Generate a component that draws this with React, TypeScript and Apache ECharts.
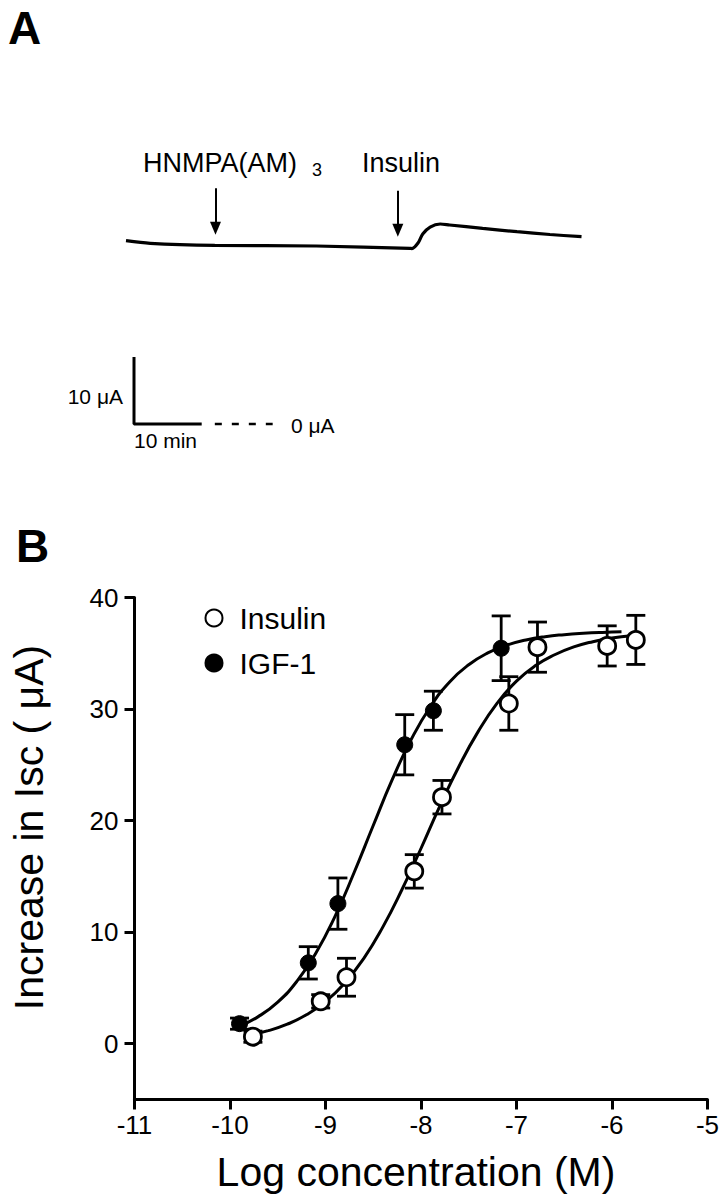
import React, { useEffect, useRef } from "react";
import * as echarts from "echarts";

const FONT = "'Liberation Sans', Arial, Helvetica, sans-serif";

// ---------- Panel A: short-circuit current trace (time in min, current in µA) ----------
const traceTime = [0, 3.6, 13.2, 28.3, 42.2, 42.5, 43.4, 44.1, 45.2, 46.7, 48.1, 53.0, 58.1, 63.0, 67.7];
const traceCurrent = [27.36, 26.97, 26.67, 26.57, 26.22, 26.19, 27.01, 28.36, 29.4, 29.85, 29.7, 29.2, 28.7, 28.28, 27.96];
const arrowTimes = [13.3, 40.4];
const arrowStart = [35.2, 34.8];
const arrowEnd = [29.2, 28.9];
const scaleBarTime = [1.19, 1.19, 11.25];
const scaleBarCurrent = [10, 0, 0];
const zeroLineTime = [13.2, 21.8];

// ---------- Panel B: concentration-response ----------
const insulinLogC = [-9.76, -9.05, -8.78, -8.07, -7.78, -7.08, -6.78, -6.05, -5.75];
const insulinMean = [0.63, 3.8, 5.96, 15.45, 22.1, 30.5, 35.55, 35.66, 36.2];
const insulinSem = [0.5, 0.6, 1.7, 1.5, 1.5, 2.4, 2.25, 1.8, 2.2];

const igfLogC = [-9.9, -9.18, -8.87, -8.17, -7.87, -7.16];
const igfMean = [1.8, 7.25, 12.56, 26.8, 29.85, 35.45];
const igfSem = [0.5, 1.45, 2.3, 2.7, 1.75, 2.9];

const insulinFitX = [-9.8, -9.6, -9.4, -9.2, -9.0, -8.8, -8.6, -8.4, -8.2, -8.0, -7.8, -7.6, -7.4, -7.2, -7.0, -6.8, -6.6, -6.4, -6.2, -6.0, -5.8];
const insulinFitY = [0.78, 1.17, 1.75, 2.59, 3.77, 5.43, 7.63, 10.45, 13.8, 17.5, 21.35, 24.9, 28.0, 30.55, 32.5, 33.9, 34.87, 35.57, 36.04, 36.36, 36.58];

const igfFitX = [-9.9, -9.7, -9.5, -9.3, -9.1, -8.9, -8.7, -8.5, -8.3, -8.1, -7.9, -7.7, -7.5, -7.3, -7.1, -6.9, -6.7, -6.5, -6.3, -6.1, -5.9];
const igfFitY = [1.58, 2.45, 3.73, 5.59, 8.13, 11.42, 15.35, 19.56, 23.69, 27.31, 30.23, 32.43, 33.97, 35.03, 35.73, 36.19, 36.49, 36.67, 36.79, 36.87, 36.92];

const xTicks = [-11, -10, -9, -8, -7, -6, -5];
const yTicks = [0, 10, 20, 30, 40];

const zip = (a: number[], b: number[]) => a.map((v, i) => [v, b[i]]);

const errorBarItem = (params: any, api: any) => {
  const x = api.value(0);
  const y = api.value(1);
  const e = api.value(2);
  const top = api.coord([x, y + e]);
  const bot = api.coord([x, y - e]);
  const hw = 9.5;
  const style = { stroke: "#000", lineWidth: 2.8 };
  return {
    type: "group",
    children: [
      { type: "line", shape: { x1: top[0], y1: top[1], x2: bot[0], y2: bot[1] }, style },
      { type: "line", shape: { x1: top[0] - hw, y1: top[1], x2: top[0] + hw, y2: top[1] }, style },
      { type: "line", shape: { x1: bot[0] - hw, y1: bot[1], x2: bot[0] + hw, y2: bot[1] }, style },
    ],
  };
};

export default function App() {
  const ref = useRef<HTMLDivElement>(null);

  useEffect(() => {
    document.body.style.margin = "0";
    if (!ref.current) return;
    const chart = echarts.init(ref.current, undefined, { renderer: "svg" });

    const axisB = {
      axisLine: { show: true, onZero: false, lineStyle: { color: "#000", width: 3 } },
      axisTick: { show: true, length: 10, lineStyle: { color: "#000", width: 3 } },
      splitLine: { show: false },
    };

    const option: any = {
      animation: false,
      backgroundColor: "#fff",
      textStyle: { fontFamily: FONT, color: "#000" },
      grid: [
        { left: 126, top: 182.8, width: 471, height: 268 },
        { left: 134.5, top: 597.5, width: 574.5, height: 502 },
      ],
      xAxis: [
        { gridIndex: 0, type: "value", min: 0, max: 70, show: false },
        {
          gridIndex: 1,
          type: "value",
          min: -11,
          max: -5,
          interval: 1,
          ...axisB,
          axisLabel: {
            color: "#000",
            fontSize: 26,
            fontFamily: FONT,
            margin: 12,
            customValues: xTicks,
          },
          axisTick: { ...axisB.axisTick, customValues: xTicks },
        },
      ],
      yAxis: [
        { gridIndex: 0, type: "value", min: -4, max: 36, show: false },
        {
          gridIndex: 1,
          type: "value",
          min: -5,
          max: 40,
          interval: 5,
          ...axisB,
          axisLabel: {
            color: "#000",
            fontSize: 26,
            fontFamily: FONT,
            margin: 16,
            customValues: yTicks,
          },
          axisTick: { ...axisB.axisTick, customValues: yTicks },
        },
      ],
      legend: {
        orient: "vertical",
        left: 199.5,
        top: 598,
        itemWidth: 17,
        itemHeight: 17,
        itemGap: 15,
        data: ["Insulin", "IGF-1"],
        textStyle: {
          fontSize: 30,
          lineHeight: 30,
          fontFamily: FONT,
          color: "#000",
          padding: [0, 0, 0, 12],
        },
      },
      graphic: [
        { type: "text", x: 8, y: 28, style: { text: "A", font: `bold 46px ${FONT}`, fill: "#000", align: "left", verticalAlign: "middle" } },
        { type: "text", x: 16, y: 546, style: { text: "B", font: `bold 46px ${FONT}`, fill: "#000", align: "left", verticalAlign: "middle" } },
        { type: "text", x: 297, y: 163, style: { text: "HNMPA(AM)", font: `27px ${FONT}`, fill: "#000", align: "right", verticalAlign: "middle" } },
        { type: "text", x: 312, y: 170, style: { text: "3", font: `18px ${FONT}`, fill: "#000", align: "left", verticalAlign: "middle" } },
        { type: "text", x: 362, y: 163, style: { text: "Insulin", font: `27px ${FONT}`, fill: "#000", align: "left", verticalAlign: "middle" } },
        { type: "text", x: 123, y: 396, style: { text: "10 μA", font: `21px ${FONT}`, fill: "#000", align: "right", verticalAlign: "middle" } },
        { type: "text", x: 134, y: 440, style: { text: "10 min", font: `21px ${FONT}`, fill: "#000", align: "left", verticalAlign: "middle" } },
        { type: "text", x: 291, y: 425, style: { text: "0 μA", font: `21px ${FONT}`, fill: "#000", align: "left", verticalAlign: "middle" } },
        { type: "text", x: 416, y: 1172, style: { text: "Log concentration (M)", font: `41px ${FONT}`, fill: "#000", align: "center", verticalAlign: "middle" } },
        { type: "text", x: 29, y: 827.5, rotation: Math.PI / 2, style: { text: "Increase in Isc ( μA)", font: `41px ${FONT}`, fill: "#000", align: "center", verticalAlign: "middle" } },
      ],
      series: [
        {
          name: "trace",
          type: "line",
          xAxisIndex: 0,
          yAxisIndex: 0,
          data: zip(traceTime, traceCurrent),
          smooth: 0.3,
          showSymbol: false,
          lineStyle: { color: "#000", width: 3.2 },
          silent: true,
          markLine: {
            silent: true,
            symbol: ["none", "triangle"],
            symbolSize: [11, 13],
            label: { show: false },
            lineStyle: { color: "#000", width: 2, type: "solid" },
            data: arrowTimes.map((t, i) => [
              { coord: [t, arrowStart[i]] },
              { coord: [t, arrowEnd[i]] },
            ]),
          },
        },
        {
          name: "scalebar",
          type: "line",
          xAxisIndex: 0,
          yAxisIndex: 0,
          data: zip(scaleBarTime, scaleBarCurrent),
          showSymbol: false,
          lineStyle: { color: "#000", width: 3 },
          silent: true,
        },
        {
          name: "zero",
          type: "line",
          xAxisIndex: 0,
          yAxisIndex: 0,
          data: zeroLineTime.map((t) => [t, 0]),
          showSymbol: false,
          lineStyle: { color: "#000", width: 2.7, type: [7, 10] },
          silent: true,
        },
        {
          name: "Insulin fit",
          type: "line",
          xAxisIndex: 1,
          yAxisIndex: 1,
          data: zip(insulinFitX, insulinFitY),
          smooth: true,
          showSymbol: false,
          lineStyle: { color: "#000", width: 3 },
          z: 1,
        },
        {
          name: "IGF-1 fit",
          type: "line",
          xAxisIndex: 1,
          yAxisIndex: 1,
          data: zip(igfFitX, igfFitY),
          smooth: true,
          showSymbol: false,
          lineStyle: { color: "#000", width: 3 },
          z: 1,
        },
        {
          name: "Insulin err",
          type: "custom",
          xAxisIndex: 1,
          yAxisIndex: 1,
          data: insulinLogC.map((x, i) => [x, insulinMean[i], insulinSem[i]]),
          renderItem: errorBarItem,
          encode: { x: 0, y: 1 },
          z: 2,
        },
        {
          name: "IGF-1 err",
          type: "custom",
          xAxisIndex: 1,
          yAxisIndex: 1,
          data: igfLogC.map((x, i) => [x, igfMean[i], igfSem[i]]),
          renderItem: errorBarItem,
          encode: { x: 0, y: 1 },
          z: 2,
        },
        {
          name: "Insulin",
          type: "scatter",
          xAxisIndex: 1,
          yAxisIndex: 1,
          data: zip(insulinLogC, insulinMean),
          symbol: "circle",
          symbolSize: 17,
          itemStyle: { color: "#fff", borderColor: "#000", borderWidth: 2.8, opacity: 1 },
          z: 3,
        },
        {
          name: "IGF-1",
          type: "scatter",
          xAxisIndex: 1,
          yAxisIndex: 1,
          data: zip(igfLogC, igfMean),
          symbol: "circle",
          symbolSize: 16,
          itemStyle: { color: "#000", borderColor: "#000", borderWidth: 1, opacity: 1 },
          z: 3,
        },
      ],
    };

    chart.setOption(option);
    return () => chart.dispose();
  }, []);

  return <div ref={ref} style={{ width: 722, height: 1200 }} />;
}
